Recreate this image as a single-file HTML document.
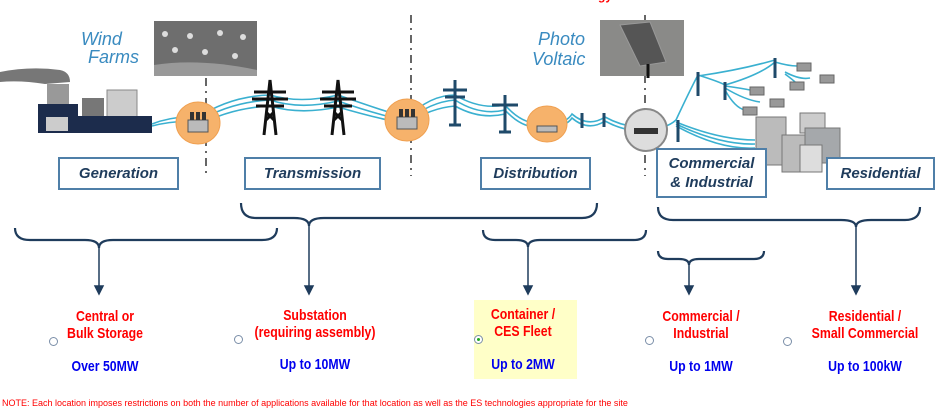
<!DOCTYPE html>
<html><head><meta charset="utf-8"><style>
html,body{margin:0;padding:0;background:#fff;}
body{width:940px;height:403px;overflow:hidden;position:relative;font-family:"Liberation Sans",Arial,sans-serif;}
.box{position:absolute;border:2px solid #4f7fa8;background:#fff;color:#1f3c5c;font-style:italic;font-weight:bold;font-size:15px;text-align:center;box-sizing:border-box;display:flex;align-items:center;justify-content:center;line-height:19px;}
.t{position:absolute;text-align:center;font-weight:bold;font-size:15px;line-height:17px;transform:scaleX(0.82);}
.red{color:#f00;}
.blue{color:#0000ee;}
.c{position:absolute;width:7px;height:7px;border:1px solid #7a8ea8;border-radius:50%;background:#fff;}
</style></head><body>
<svg width="940" height="403" style="position:absolute;left:0;top:0">
<text x="598" y="0" fill="#f00" font-size="12" font-weight="bold" font-family="Liberation Sans">gy  S</text>
<g stroke="#666" stroke-width="2" stroke-dasharray="8,5,2,5">
<line x1="206" y1="78" x2="206" y2="176"/><line x1="411" y1="15" x2="411" y2="176"/><line x1="645" y1="15" x2="645" y2="176"/>
</g>
<rect x="154" y="21" width="103" height="55" fill="#6e6e6e"/>
<path d="M154,65 Q200,58 257,70 L257,76 L154,76z" fill="#999"/>
<g fill="#ddd"><circle cx="165" cy="34" r="3"/><circle cx="190" cy="36" r="3"/><circle cx="220" cy="33" r="3"/><circle cx="243" cy="37" r="3"/><circle cx="175" cy="50" r="3"/><circle cx="205" cy="52" r="3"/><circle cx="235" cy="56" r="3"/></g>
<rect x="600" y="20" width="84" height="56" fill="#8a8a88"/>
<path d="M620,25 L650,22 L666,62 L640,66z" fill="#555" stroke="#999"/>
<line x1="648" y1="64" x2="648" y2="78" stroke="#111" stroke-width="3"/>
<text x="81" y="45" fill="#3a8bc0" font-size="18" font-style="italic" font-family="Liberation Sans">Wind</text>
<text x="88" y="63" fill="#3a8bc0" font-size="18" font-style="italic" font-family="Liberation Sans">Farms</text>
<text x="538" y="45" fill="#3a8bc0" font-size="18" font-style="italic" font-family="Liberation Sans">Photo</text>
<text x="532" y="65" fill="#3a8bc0" font-size="18" font-style="italic" font-family="Liberation Sans">Voltaic</text>
<path d="M0,72 Q30,66 60,70 Q70,72 70,82 L45,84 Q20,80 0,82z" fill="#777"/>
<rect x="47" y="84" width="22" height="22" fill="#999"/>
<rect x="82" y="98" width="22" height="18" fill="#777"/>
<rect x="107" y="90" width="30" height="28" fill="#ccc" stroke="#888"/>
<path d="M38,104 L78,104 L78,116 L152,116 L152,133 L38,133z" fill="#1c2c4c"/>
<rect x="46" y="117" width="22" height="14" fill="#ccc"/>
<g fill="none" stroke="#3ab0d0" stroke-width="1.6">
<path d="M152,124 Q175,115 197,118 Q230,96 270,95 Q300,104 338,95 Q375,108 407,118 Q430,95 455,95 Q480,110 505,105 Q525,128 547,122 Q565,125 572,114 Q588,128 605,117 Q625,128 646,127"/>
<path d="M152,126 Q175,120 197,122 Q230,102 270,100 Q300,110 338,101 Q375,114 407,121 Q430,102 455,100 Q480,116 505,110 Q525,132 547,126 Q565,128 572,118 Q588,132 605,121 Q625,132 646,131"/>
<path d="M197,126 Q230,108 270,106 Q300,115 338,107 Q375,118 407,124 Q430,108 455,106 Q480,120 505,114"/>
<path d="M646,128 Q665,130 676,120 Q690,90 698,75 Q720,82 725,85 Q760,75 775,62 Q795,68 805,65"/>
<path d="M676,122 Q720,140 755,140 M676,124 Q720,145 755,144 M676,126 Q720,150 755,148"/>
<path d="M698,76 Q740,70 775,60 M725,86 Q740,88 750,90 M725,88 Q745,100 760,102 M725,90 Q735,108 745,110 M785,72 Q800,80 810,78 M785,74 Q800,85 800,88"/>
</g>
<g fill="#f6b26b" stroke="#f0a050"><ellipse cx="198" cy="123" rx="22" ry="21"/><ellipse cx="407" cy="120" rx="22" ry="21"/><ellipse cx="547" cy="124" rx="20" ry="18"/></g>
<g fill="#bbb" stroke="#555"><rect x="188" y="120" width="20" height="12"/><rect x="397" y="117" width="20" height="12"/><rect x="537" y="126" width="20" height="6"/></g>
<g fill="#333"><rect x="190" y="112" width="4" height="8"/><rect x="196" y="112" width="4" height="8"/><rect x="202" y="112" width="4" height="8"/><rect x="399" y="109" width="4" height="8"/><rect x="405" y="109" width="4" height="8"/><rect x="411" y="109" width="4" height="8"/></g>
<g stroke="#111" stroke-width="3" fill="none">
<path d="M264,135 L270,80 L276,135 M254,92 L286,92 M252,99 L288,99 M256,106 L284,106 M266,112 L274,120 M274,112 L266,120"/>
<path d="M332,135 L338,80 L344,135 M322,92 L354,92 M320,99 L356,99 M324,106 L352,106 M334,112 L342,120 M342,112 L334,120"/>
</g>
<g stroke="#1f4a6a" stroke-width="3" fill="none">
<path d="M455,80 L455,125 M443,90 L467,90 M445,97 L465,97 M449,125 L461,125"/>
<path d="M505,95 L505,132 M492,105 L518,105 M499,132 L511,132"/>
<path d="M582,113 L582,128 M604,113 L604,127 M678,120 L678,142 M698,72 L698,96 M725,82 L725,100 M775,58 L775,78"/>
</g>
<circle cx="646" cy="130" r="21" fill="#ddd" stroke="#888" stroke-width="2"/>
<rect x="634" y="128" width="24" height="6" fill="#333"/>
<g fill="#999" stroke="#666"><rect x="750" y="87" width="14" height="8"/><rect x="770" y="99" width="14" height="8"/><rect x="743" y="107" width="14" height="8"/><rect x="797" y="63" width="14" height="8"/><rect x="820" y="75" width="14" height="8"/><rect x="790" y="82" width="14" height="8"/></g>
<g fill="#bbb" stroke="#777"><rect x="756" y="117" width="30" height="48"/><rect x="782" y="135" width="25" height="37"/><rect x="800" y="113" width="25" height="20" fill="#ccc"/><rect x="805" y="128" width="35" height="35" fill="#a5a8ab"/><rect x="800" y="145" width="22" height="27" fill="#ddd"/></g>
<g fill="none" stroke="#1f3c5c" stroke-width="2.2">
<path d="M15,228 Q15,240 30,240 L85,240 Q99,240 99,248 Q99,240 113,240 L262,240 Q277,240 277,228"/>
<path d="M241,203 Q241,218 256,218 L294,218 Q309,218 309,226 Q309,218 324,218 L582,218 Q597,218 597,203"/>
<path d="M483,230 Q483,240 495,240 L516,240 Q528,240 528,247 Q528,240 540,240 L634,240 Q646,240 646,230"/>
<path d="M658,251 Q658,259 668,259 L679,259 Q689,259 689,265 Q689,259 699,259 L754,259 Q764,259 764,251"/>
<path d="M658,207 Q658,220 673,220 L841,220 Q856,220 856,227 Q856,220 871,220 L905,220 Q920,220 920,207"/>
</g>
<g stroke="#1f3c5c" stroke-width="1.5" fill="#1f3c5c">
<line x1="99" y1="248" x2="99" y2="287"/><path d="M95,286 L103,286 L99,294z"/>
<line x1="309" y1="226" x2="309" y2="287"/><path d="M305,286 L313,286 L309,294z"/>
<line x1="528" y1="247" x2="528" y2="287"/><path d="M524,286 L532,286 L528,294z"/>
<line x1="689" y1="265" x2="689" y2="287"/><path d="M685,286 L693,286 L689,294z"/>
<line x1="856" y1="227" x2="856" y2="287"/><path d="M852,286 L860,286 L856,294z"/>
</g>
</svg>
<div class="box" style="left:58px;top:157px;width:121px;height:33px;">Generation</div>
<div class="box" style="left:244px;top:157px;width:137px;height:33px;">Transmission</div>
<div class="box" style="left:480px;top:157px;width:111px;height:33px;">Distribution</div>
<div class="box" style="left:656px;top:148px;width:111px;height:50px;">Commercial<br>&amp; Industrial</div>
<div class="box" style="left:826px;top:157px;width:109px;height:33px;">Residential</div>

<div style="position:absolute;left:474px;top:300px;width:103px;height:79px;background:#ffffc8;"></div>
<div class="t red" style="left:40px;top:308px;width:130px;">Central or<br>Bulk Storage</div>
<div class="t blue" style="left:40px;top:358px;width:130px;">Over 50MW</div>
<div class="t red" style="left:225px;top:307px;width:180px;">Substation<br>(requiring assembly)</div>
<div class="t blue" style="left:235px;top:356px;width:160px;">Up to 10MW</div>
<div class="t red" style="left:463px;top:306px;width:120px;">Container /<br>CES Fleet</div>
<div class="t blue" style="left:463px;top:356px;width:120px;">Up to 2MW</div>
<div class="t red" style="left:641px;top:308px;width:120px;">Commercial /<br>Industrial</div>
<div class="t blue" style="left:641px;top:358px;width:120px;">Up to 1MW</div>
<div class="t red" style="left:785px;top:308px;width:160px;">Residential /<br>Small Commercial</div>
<div class="t blue" style="left:795px;top:358px;width:140px;">Up to 100kW</div>
<div class="c" style="left:49px;top:337px;"></div>
<div class="c" style="left:234px;top:335px;"></div>
<div class="c" style="left:474px;top:335px;"><div style="width:3px;height:3px;margin:2px;border-radius:50%;background:#2a2;"></div></div>
<div class="c" style="left:645px;top:336px;"></div>
<div class="c" style="left:783px;top:337px;"></div>
<div style="position:absolute;left:2px;top:398px;font-size:9px;color:#f00;white-space:nowrap;">NOTE: Each location imposes restrictions on both the number of applications available for that location as well as the ES technologies appropriate for the site</div>
</body></html>
